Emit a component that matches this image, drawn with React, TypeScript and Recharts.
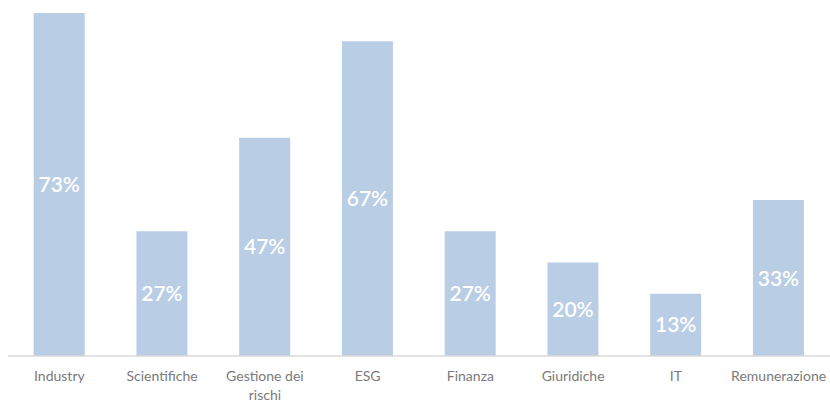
import { BarChart, Bar, XAxis, YAxis, LabelList, Text } from "recharts";

const categories = [
  "Industry",
  "Scientifiche",
  "Gestione dei rischi",
  "ESG",
  "Finanza",
  "Giuridiche",
  "IT",
  "Remunerazione",
];
const shares = [73.33, 26.67, 46.67, 67.3, 26.67, 20, 13.33, 33.33];

const data = categories.map((name, i) => ({ name, value: shares[i] }));

const FONT = "Lato, 'Open Sans', sans-serif";

function CategoryTick(props: any) {
  const { x, y, payload } = props;
  return (
    <Text
      x={x}
      y={y + 7}
      width={92}
      textAnchor="middle"
      verticalAnchor="start"
      lineHeight={19}
      fill="#7A7A7A"
      fontSize={14}
      fontFamily={FONT}
    >
      {payload.value}
    </Text>
  );
}

export default function App() {
  return (
    <div style={{ position: "absolute", left: 0, top: 0, background: "#fff" }}>
      <BarChart
        width={830}
        height={403}
        data={data}
        margin={{ top: 13, right: 0, left: 8, bottom: 0 }}
        barCategoryGap="25%"
      >
        <YAxis hide domain={[0, 73.33]} />
        <XAxis
          dataKey="name"
          axisLine={{ stroke: "#D9D9D9", strokeWidth: 1.5 }}
          tickLine={false}
          interval={0}
          height={47}
          tick={<CategoryTick />}
        />
        <Bar dataKey="value" fill="#B9CDE5" isAnimationActive={false}>
          <LabelList
            dataKey="value"
            position="center"
            fill="#FFFFFF"
            fontSize={21}
            fontWeight={600}
            fontFamily={FONT}
            formatter={(v: any) => `${Math.round(Number(v))}%`}
          />
        </Bar>
      </BarChart>
    </div>
  );
}
